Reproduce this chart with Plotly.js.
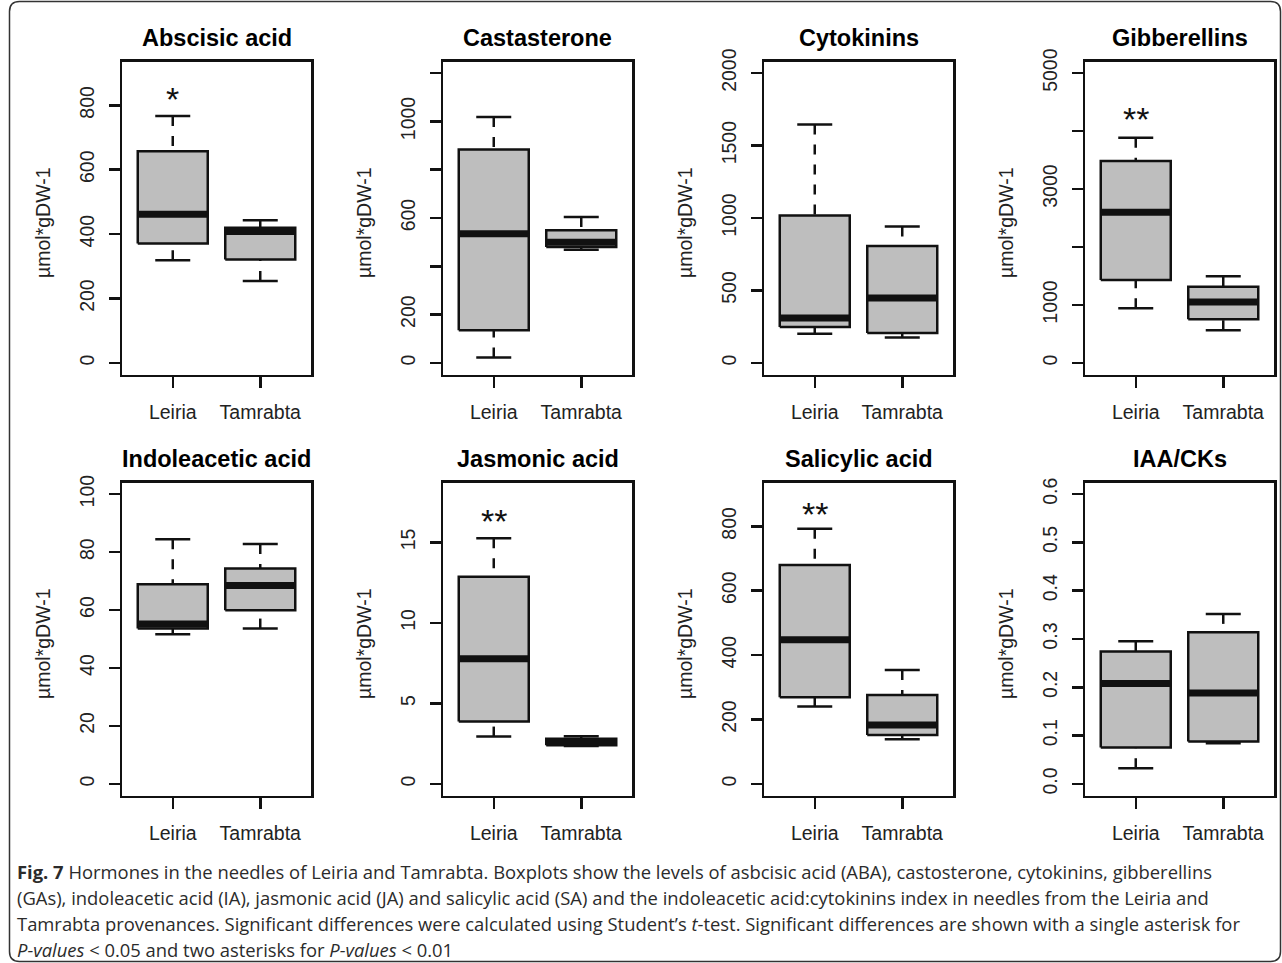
<!DOCTYPE html>
<html><head><meta charset="utf-8">
<script src="https://cdn.plot.ly/plotly-3.0.1.min.js"></script>
<style>html,body{margin:0;padding:0;background:#fff;} #chart{width:1282px;height:963px;}</style>
</head><body><div id="chart"></div>
<script>
// ---------------- data ----------------
const groups = ['Leiria', 'Tamrabta'];
const panelTitles = ['Abscisic acid', 'Castasterone', 'Cytokinins', 'Gibberellins',
                     'Indoleacetic acid', 'Jasmonic acid', 'Salicylic acid', 'IAA/CKs'];
const yLabel = 'µmol*gDW-1';

// five-number summaries: [lower whisker, Q1, median, Q3, upper whisker]
const abscisicLeiria      = [319, 371, 462, 657, 767];
const abscisicTamrabta    = [254, 321, 408, 420, 443];
const castasteroneLeiria  = [22, 135, 535, 884, 1018];
const castasteroneTamrabta= [469, 480, 500, 549, 604];
const cytokininsLeiria    = [202, 248, 310, 1018, 1646];
const cytokininsTamrabta  = [175, 207, 448, 807, 942];
const gibberellinsLeiria  = [943, 1431, 2598, 3483, 3885];
const gibberellinsTamrabta= [563, 753, 1052, 1316, 1494];
const indoleaceticLeiria  = [51.6, 53.6, 55.2, 68.9, 84.4];
const indoleaceticTamrabta= [53.6, 59.9, 68.5, 74.3, 82.8];
const jasmonicLeiria      = [2.94, 3.87, 7.77, 12.87, 15.25];
const jasmonicTamrabta    = [2.35, 2.4, 2.6, 2.8, 2.96];
const salicylicLeiria     = [240, 269, 448, 680, 792];
const salicylicTamrabta   = [139, 152, 183, 276, 354];
const iaaCkLeiria         = [0.0325, 0.0754, 0.208, 0.274, 0.2955];
const iaaCkTamrabta       = [0.0844, 0.088, 0.188, 0.314, 0.352];

// y limits (R ylim upper bound) and tick marks / labels
const yLimMax = [900, 1200, 2000, 5000, 100, 18, 900, 0.6];
const tickValues = [
  [0, 200, 400, 600, 800],
  [0, 200, 400, 600, 800, 1000, 1200],
  [0, 500, 1000, 1500, 2000],
  [0, 1000, 2000, 3000, 4000, 5000],
  [0, 20, 40, 60, 80, 100],
  [0, 5, 10, 15],
  [0, 200, 400, 600, 800],
  [0, 0.1, 0.2, 0.3, 0.4, 0.5, 0.6]
];
const tickLabels = [
  ['0', '200', '400', '600', '800'],
  ['0', '200', '', '600', '', '1000', ''],
  ['0', '500', '1000', '1500', '2000'],
  ['0', '1000', '', '3000', '', '5000'],
  ['0', '20', '40', '60', '80', '100'],
  ['0', '5', '10', '15'],
  ['0', '200', '400', '600', '800'],
  ['0.0', '0.1', '0.2', '0.3', '0.4', '0.5', '0.6']
];
// significance marks above Leiria
const sigLabels = ['*', '', '', '**', '', '**', '**', ''];
const sigY = [831, null, null, 4270, null, 16.6, 852, null];

const captionLines = [
  '<b>Fig. 7</b> Hormones in the needles of Leiria and Tamrabta. Boxplots show the levels of asbcisic acid (ABA), castosterone, cytokinins, gibberellins',
  '(GAs), indoleacetic acid (IA), jasmonic acid (JA) and salicylic acid (SA) and the indoleacetic acid:cytokinins index in needles from the Leiria and',
  'Tamrabta provenances. Significant differences were calculated using Student’s <i>t</i>-test. Significant differences are shown with a single asterisk for',
  '<i>P-values</i> &lt; 0.05 and two asterisks for <i>P-values</i> &lt; 0.01'
];

const panelStats = [
  [abscisicLeiria, abscisicTamrabta],
  [castasteroneLeiria, castasteroneTamrabta],
  [cytokininsLeiria, cytokininsTamrabta],
  [gibberellinsLeiria, gibberellinsTamrabta],
  [indoleaceticLeiria, indoleaceticTamrabta],
  [jasmonicLeiria, jasmonicTamrabta],
  [salicylicLeiria, salicylicTamrabta],
  [iaaCkLeiria, iaaCkTamrabta]
];

// ---------------- layout geometry ----------------
const W = 1282, H = 963;
const colLeft = [122, 443, 764, 1085];
const plotW = 189;
const rowTop = [61.5, 482.5];
const plotH = 313;
const INK = '#111';
const FONT = 'Liberation Sans, Arimo, Arial, sans-serif';
const LW = 2.5;
const halfBox = 0.4, halfStaple = 0.2;

const traces = [];
const layout = {
  width: W, height: H,
  margin: {l: 0, r: 0, t: 0, b: 0},
  paper_bgcolor: '#fff', plot_bgcolor: '#fff',
  showlegend: false,
  hovermode: false,
  annotations: [],
  shapes: []
};

panelStats.forEach((stats, p) => {
  const s = p === 0 ? '' : String(p + 1);
  const col = p % 4, row = Math.floor(p / 4);
  const x0 = colLeft[col], y0 = rowTop[row];
  const xa = 'x' + s, ya = 'y' + s;

  const bx = [], by = [], mx = [], my = [], wx = [], wy = [], sx = [], sy = [];
  stats.forEach((st, g) => {
    const c = g + 1;
    const [lo, q1, md, q3, hi] = st;
    bx.push(c - halfBox, c + halfBox, c + halfBox, c - halfBox, c - halfBox, null);
    by.push(q1, q1, q3, q3, q1, null);
    mx.push(c - halfBox, c + halfBox, null);
    my.push(md, md, null);
    wx.push(c, c, null, c, c, null);
    wy.push(hi, q3, null, lo, q1, null);
    sx.push(c - halfStaple, c + halfStaple, null, c - halfStaple, c + halfStaple, null);
    sy.push(hi, hi, null, lo, lo, null);
  });
  traces.push({type: 'scatter', mode: 'lines', x: wx, y: wy, xaxis: xa, yaxis: ya,
    line: {color: INK, width: LW, dash: '10px,10px'}, hoverinfo: 'skip'});
  traces.push({type: 'scatter', mode: 'lines', x: sx, y: sy, xaxis: xa, yaxis: ya,
    line: {color: INK, width: LW}, hoverinfo: 'skip'});
  traces.push({type: 'scatter', mode: 'lines', x: bx, y: by, xaxis: xa, yaxis: ya,
    fill: 'toself', fillcolor: '#bebebe', line: {color: INK, width: LW}, hoverinfo: 'skip'});
  traces.push({type: 'scatter', mode: 'lines', x: mx, y: my, xaxis: xa, yaxis: ya,
    line: {color: INK, width: 7}, hoverinfo: 'skip'});

  const top = yLimMax[p];
  const pad = 0.04 * top;
  layout['xaxis' + s] = {
    domain: [x0 / W, (x0 + plotW) / W],
    anchor: ya, range: [0.42, 2.58],
    tickmode: 'array', tickvals: [1, 2], ticktext: groups,
    ticks: 'outside', ticklen: 11, tickwidth: LW, tickcolor: INK,
    showline: true, mirror: true, linewidth: LW, linecolor: INK,
    showgrid: false, zeroline: false, fixedrange: true,
    tickfont: {family: FONT, size: 19.5, color: '#222'},
    ticklabelstandoff: 8
  };
  layout['yaxis' + s] = {
    domain: [1 - (y0 + plotH) / H, 1 - y0 / H],
    anchor: xa, range: [-pad, top + pad],
    tickmode: 'array', tickvals: tickValues[p], ticktext: tickLabels[p],
    tickangle: -90,
    ticks: 'outside', ticklen: 11, tickwidth: LW, tickcolor: INK,
    showline: true, mirror: true, linewidth: LW, linecolor: INK,
    showgrid: false, zeroline: false, fixedrange: true,
    tickfont: {family: FONT, size: 19.5, color: '#222'},
    ticklabelstandoff: 7
  };

  // panel title
  layout.annotations.push({
    xref: 'paper', yref: 'paper',
    x: (x0 + plotW / 2) / W, y: 1 - (y0 - 23.5) / H,
    xanchor: 'center', yanchor: 'middle', showarrow: false,
    text: panelTitles[p],
    font: {family: FONT, size: 23.5, color: '#000', weight: 'bold'}
  });
  // y label
  layout.annotations.push({
    xref: 'paper', yref: 'paper',
    x: (x0 - 79) / W, y: 1 - (y0 + plotH / 2 + 5) / H,
    xanchor: 'center', yanchor: 'middle', showarrow: false,
    textangle: -90, text: yLabel,
    font: {family: FONT, size: 19.5, color: '#222'}
  });
  // significance asterisks
  if (sigLabels[p]) {
    layout.annotations.push({
      xref: xa, yref: ya, x: 1, y: sigY[p],
      xanchor: 'center', yanchor: 'middle', showarrow: false,
      text: sigLabels[p], yshift: -4,
      font: {family: FONT, size: 34, color: '#111'}
    });
  }
});

// caption
const capY = [871, 897, 923, 949];
captionLines.forEach((t, i) => {
  layout.annotations.push({
    xref: 'paper', yref: 'paper', x: 15 / W, y: 1 - capY[i] / H,
    xanchor: 'left', yanchor: 'middle', showarrow: false, align: 'left',
    text: t, font: {family: 'Open Sans, sans-serif', size: 18.4, color: '#2b2b2b'}
  });
});

// figure frame with rounded corners
(function () {
  const L = 9.5, R = 1280.5, T = 1.5, B = 961.5, r = 10;
  const px = v => (v / W).toFixed(5), py = v => (1 - v / H).toFixed(5);
  const path = `M${px(L + r)},${py(T)} L${px(R - r)},${py(T)} Q${px(R)},${py(T)} ${px(R)},${py(T + r)} ` +
    `L${px(R)},${py(B - r)} Q${px(R)},${py(B)} ${px(R - r)},${py(B)} ` +
    `L${px(L + r)},${py(B)} Q${px(L)},${py(B)} ${px(L)},${py(B - r)} ` +
    `L${px(L)},${py(T + r)} Q${px(L)},${py(T)} ${px(L + r)},${py(T)} Z`;
  layout.shapes.push({type: 'path', xref: 'paper', yref: 'paper', path: path,
    line: {color: '#333', width: 1.5}, fillcolor: 'rgba(0,0,0,0)', layer: 'below'});
})();

Plotly.newPlot('chart', traces, layout, {staticPlot: true, displayModeBar: false});
</script></body></html>
